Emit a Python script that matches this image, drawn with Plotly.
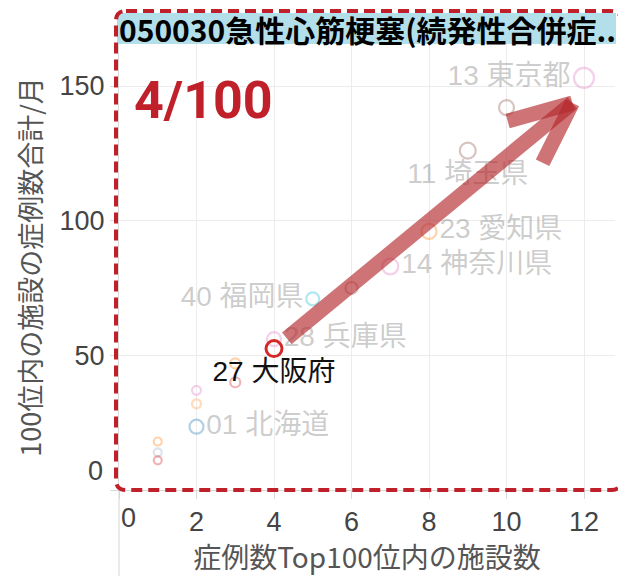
import plotly.graph_objects as go

# ---- data ----
title_text = "050030急性心筋梗塞(続発性合併症.."
badge_text = "4/100"
x_title = "症例数Top100位内の施設数"
y_title = "100位内の施設の症例数合計/月"

labels = ["13 東京都", "", "11 埼玉県", "23 愛知県", "14 神奈川県", "", "40 福岡県",
          "28 兵庫県", "", "", "", "", "01 北海道", "", "", ""]
n_facilities = [12, 10, 9, 8, 7, 6, 5, 4, 3, 3, 2, 2, 2, 1, 1, 1]
cases_month = [153, 142, 126, 96, 83, 75, 71, 56, 47, 40, 37, 32, 23.5, 18, 14, 11]
colors = ["#e377c2", "#8c564b", "#8c564b", "#ff7f0e", "#e377c2", "#8c564b", "#17becf",
          "#e377c2", "#ff7f0e", "#d62728", "#e377c2", "#ff9f40", "#1f77b4", "#ff7f0e",
          "#9ab0c8", "#d62728"]
sizes = [20, 15, 16, 15, 16, 12, 13, 14, 10, 10, 9, 9, 14, 8, 8, 8]
positions = ["middle left", "middle right", "bottom center", "middle right", "middle right",
             "middle right", "middle left", "middle right", "middle right", "middle right",
             "middle right", "middle right", "middle right", "middle right", "middle right",
             "middle right"]

focus_label = "27 大阪府"
focus_x = [4]
focus_y = [52.5]

x_ticks = [0, 2, 4, 6, 8, 10, 12]
y_ticks = [0, 50, 100, 150]

FONT = "Noto Sans CJK JP"
NUMFONT = "Liberation Sans, Noto Sans CJK JP"

fig = go.Figure()
fig.add_trace(go.Scatter(
    x=n_facilities, y=cases_month, mode="markers+text", text=labels,
    textposition=positions,
    textfont=dict(family=NUMFONT, size=28, color="rgba(110,110,110,0.36)"),
    marker=dict(symbol="circle-open", size=sizes, color=colors, opacity=0.35,
                line=dict(width=2.2)),
    hoverinfo="skip", showlegend=False, cliponaxis=False))
fig.add_trace(go.Scatter(
    x=focus_x, y=focus_y, mode="markers+text", text=[focus_label],
    textposition="bottom center",
    textfont=dict(family=NUMFONT, size=28, color="#111111"),
    marker=dict(symbol="circle-open", size=16, color="#d62728", line=dict(width=3)),
    hoverinfo="skip", showlegend=False, cliponaxis=False))

# figure geometry (page has an 8px body margin)
OFF = 8
W, H = 618, 568
L, R, T, B = 111, 11, 36, 86
pw, ph = W - L - R, H - T - B

def px2paper(px, py):
    fx, fy = px - OFF, py - OFF
    return (fx - L) / pw, (H - B - fy) / ph

shapes = []
# title strip
x0, y0 = px2paper(117, 44)
x1, y1 = px2paper(616, 13)
shapes.append(dict(type="rect", xref="paper", yref="paper", x0=x0, x1=x1, y0=y0, y1=y1,
                   fillcolor="#b3dfea", line=dict(width=0), layer="below"))
# y axis line continuing below the plot
shapes.append(dict(type="line", xref="paper", yref="paper", x0=0, x1=0,
                   y0=px2paper(0, 576)[1], y1=0, line=dict(color="#e3e3e3", width=1.5),
                   layer="below"))

# arrow (decoration)
arrow_col = "rgba(180,40,45,0.65)"
tip = (11.7, 143.7)
for start in [(4.33, 56.3), (10.03, 137.0), (10.93, 121.5)]:
    shapes.append(dict(type="line", xref="x", yref="y", x0=start[0], y0=start[1],
                       x1=tip[0], y1=tip[1], line=dict(color=arrow_col, width=15),
                       layer="above"))

# dashed rounded highlight box
lft, rgt, top, bot, r = 116, 621, 11, 490, 10
def P(px, py):
    a, b = px2paper(px, py)
    return f"{a:.5f},{b:.5f}"
path = (f"M {P(lft + r, top)} L {P(rgt - r, top)} Q {P(rgt, top)} {P(rgt, top + r)} "
        f"L {P(rgt, bot - r)} Q {P(rgt, bot)} {P(rgt - r, bot)} "
        f"L {P(lft + r, bot)} Q {P(lft, bot)} {P(lft, bot - r)} "
        f"L {P(lft, top + r)} Q {P(lft, top)} {P(lft + r, top)} Z")
shapes.append(dict(type="path", xref="paper", yref="paper", path=path,
                   line=dict(color="#c0202a", width=4, dash="11px,6px"), layer="above"))

annotations = []
tx, ty = px2paper(117, 29)
annotations.append(dict(text=f"<b>{title_text}</b>", xref="paper", yref="paper", x=tx, y=ty,
                        xanchor="left", yanchor="middle", showarrow=False,
                        font=dict(family=FONT, size=30, color="#000000")))
bx, by = px2paper(203, 100)
annotations.append(dict(text=f"<b>{badge_text}</b>", xref="paper", yref="paper", x=bx, y=by,
                        xanchor="center", yanchor="middle", showarrow=False,
                        font=dict(family="Liberation Sans Narrow, Roboto", size=52,
                                  color="#c0202a")))
# zero tick labels (drawn nudged inward as in the reference)
annotations.append(dict(text="0", xref="paper", yref="y", x=0, y=0, xanchor="right",
                        yanchor="middle", xshift=-14, yshift=19, showarrow=False,
                        font=dict(family=NUMFONT, size=27, color="#444444")))
annotations.append(dict(text="0", xref="x", yref="paper", x=0, y=0, xanchor="center",
                        yanchor="top", xshift=9, yshift=-11, showarrow=False,
                        font=dict(family=NUMFONT, size=27, color="#444444")))

fig.update_layout(
    width=W, height=H, margin=dict(l=L, r=R, t=T, b=B, autoexpand=False),
    plot_bgcolor="white", paper_bgcolor="white",
    shapes=shapes, annotations=annotations,
    xaxis=dict(range=[0, 12.8], tickvals=x_ticks, ticktext=[""] + [str(v) for v in x_ticks[1:]],
               showgrid=True, gridcolor="#ececec", automargin=False,
               zeroline=False, showline=True, linecolor="#d9d9d9", ticks="outside",
               ticklen=8, tickcolor="#d9d9d9",
               tickfont=dict(family=NUMFONT, size=27, color="#444444"),
               title=dict(text=x_title, standoff=8,
                          font=dict(family=FONT, size=28, color="#555555"))),
    yaxis=dict(range=[0, 165.6], tickvals=y_ticks, ticktext=[""] + [str(v) for v in y_ticks[1:]],
               showgrid=True, gridcolor="#ececec", automargin=False,
               zeroline=False, showline=True, linecolor="#d9d9d9", ticks="outside",
               ticklen=8, tickcolor="#d9d9d9",
               tickfont=dict(family=NUMFONT, size=27, color="#444444"),
               title=dict(text=y_title, standoff=10,
                          font=dict(family=FONT, size=27, color="#555555"))),
)

fig.write_html("out.html")
